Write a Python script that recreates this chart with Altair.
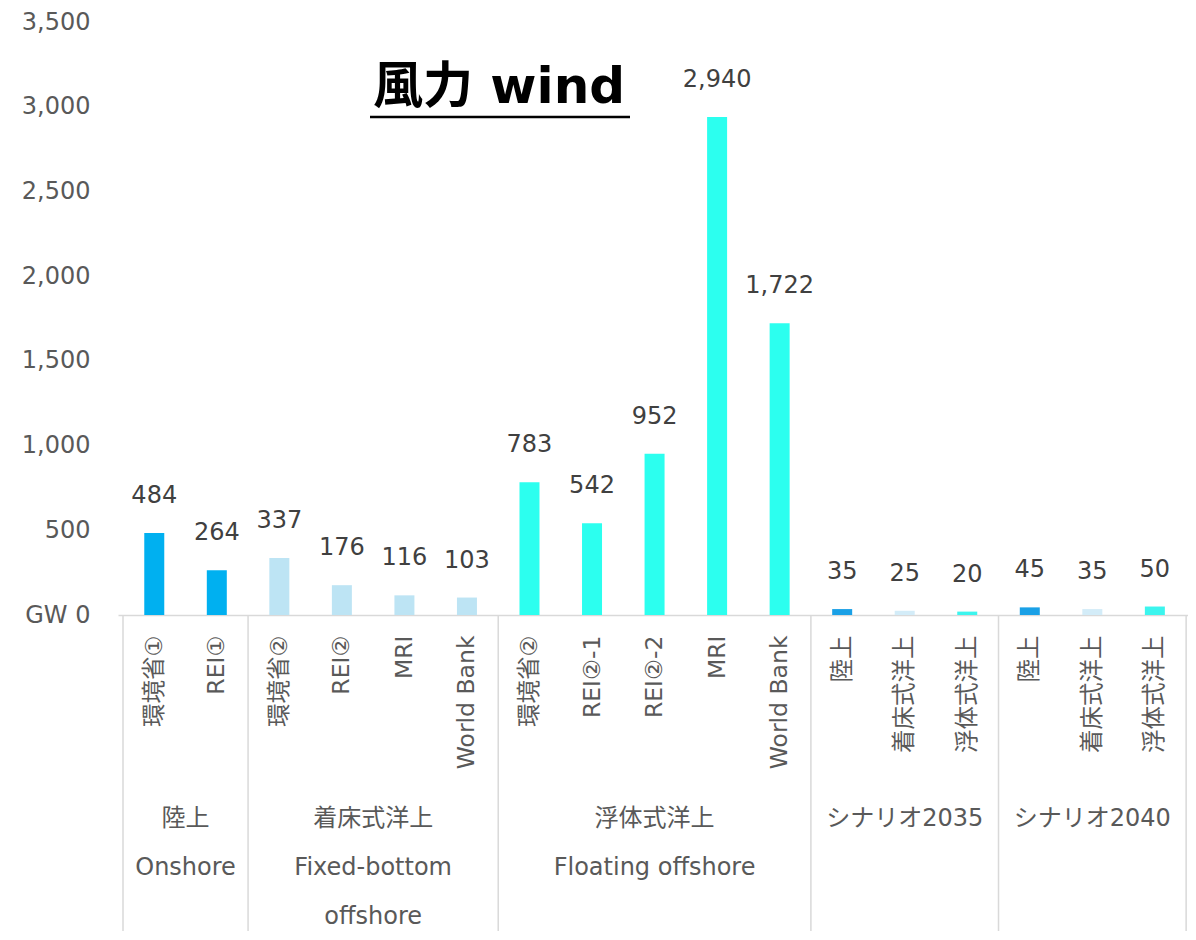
import altair as alt
import pandas as pd

# ---- data ----
labels = ['環境省①', 'REI①', '環境省②', 'REI②', 'MRI', 'World Bank',
          '環境省②', 'REI②-1', 'REI②-2', 'MRI', 'World Bank',
          '陸上', '着床式洋上', '浮体式洋上', '陸上', '着床式洋上', '浮体式洋上']
values = [484, 264, 337, 176, 116, 103, 783, 542, 952, 2940, 1722,
          35, 25, 20, 45, 35, 50]
kinds = ['onshore', 'onshore', 'fixed', 'fixed', 'fixed', 'fixed',
         'floating', 'floating', 'floating', 'floating', 'floating',
         's_onshore', 's_fixed', 's_floating', 's_onshore', 's_fixed', 's_floating']
group_names = ['陸上\nOnshore', '着床式洋上\nFixed-bottom\noffshore',
               '浮体式洋上\nFloating offshore', 'シナリオ2035', 'シナリオ2040']
group_sizes = [2, 4, 5, 3, 3]
y_ticks = [0, 500, 1000, 1500, 2000, 2500, 3000, 3500]
title_text = '風力 wind'

kind_domain = ['onshore', 'fixed', 'floating', 's_onshore', 's_fixed', 's_floating']
kind_colors = ['#00B0F0', '#BDE4F4', '#2CFFEF', '#1AA0E6', '#D3ECF8', '#3CF5EE']

FONT = 'DejaVu Sans, Noto Sans CJK JP'

n = len(labels)
df = pd.DataFrame({'i': list(range(n)), 'label': labels, 'value': values, 'kind': kinds})

centers, bounds = [], [-0.5]
start = 0
for s in group_sizes:
    centers.append(start + (s - 1) / 2)
    start += s
    bounds.append(start - 0.5)
gdf = pd.DataFrame({'c': centers, 'name': group_names})
bdf = pd.DataFrame({'b': bounds})

label_js = '[' + ','.join("'" + l + "'" for l in labels) + ']'

xscale = alt.Scale(domain=[-0.5, n - 0.55], nice=False, zero=False)
xaxis = alt.Axis(values=list(range(n)), labelExpr=label_js + '[datum.value]',
                 labelAngle=270, ticks=False, grid=False, domainColor='#D9D9D9',
                 domainWidth=1.5, labelPadding=20, labelFontSize=23.5,
                 labelColor='#595959', labelFont=FONT, title=None,
                 labelOverlap=False, labelFlush=False, labelBound=False)
yscale = alt.Scale(domain=[0, 3500], nice=False)
yaxis = alt.Axis(values=y_ticks,
                 labelExpr="datum.value == 0 ? 'GW 0' : format(datum.value, ',')",
                 ticks=False, domain=False, grid=False, labelPadding=28,
                 labelFontSize=24, labelColor='#595959', labelFont=FONT, title=None)

base = alt.Chart(df)
bars = base.mark_bar(size=20).encode(
    x=alt.X('i:Q', scale=xscale, axis=xaxis),
    y=alt.Y('value:Q', scale=yscale, axis=yaxis),
    color=alt.Color('kind:N', scale=alt.Scale(domain=kind_domain, range=kind_colors), legend=None),
)
vlabels = base.mark_text(dy=-37, fontSize=24, color='#404040', font=FONT).encode(
    x=alt.X('i:Q', scale=xscale, axis=xaxis),
    y=alt.Y('value:Q', scale=yscale, axis=yaxis),
    text=alt.Text('value:Q', format=','),
)
seps = alt.Chart(bdf).mark_rule(color='#D9D9D9', strokeWidth=1.5).encode(
    x=alt.X('b:Q', scale=xscale, axis=xaxis),
    y=alt.value(593), y2=alt.value(909),
)
glabels = alt.Chart(gdf).mark_text(lineBreak='\n', baseline='top', fontSize=24,
                                   lineHeight=49, color='#595959', font=FONT).encode(
    x=alt.X('c:Q', scale=xscale, axis=xaxis),
    y=alt.value(785),
    text='name:N',
)
tdf = pd.DataFrame({'t': [title_text]})
title = alt.Chart(tdf).mark_text(fontSize=50, fontWeight='bold', font=FONT,
                                 color='black').encode(
    text='t:N', x=alt.value(381), y=alt.value(66))
underline = alt.Chart(tdf).mark_rule(color='black', strokeWidth=2.5).encode(
    x=alt.value(252), x2=alt.value(512), y=alt.value(95))

chart = alt.layer(seps, bars, vlabels, glabels, title, underline).properties(
    width=1070, height=593,
    autosize=alt.AutoSizeParams(type='none'),
    padding={'left': 110, 'top': 14, 'right': 0, 'bottom': 316},
).configure_view(stroke=None)

chart.save('out.html', embed_options={'renderer': 'svg', 'actions': False})
